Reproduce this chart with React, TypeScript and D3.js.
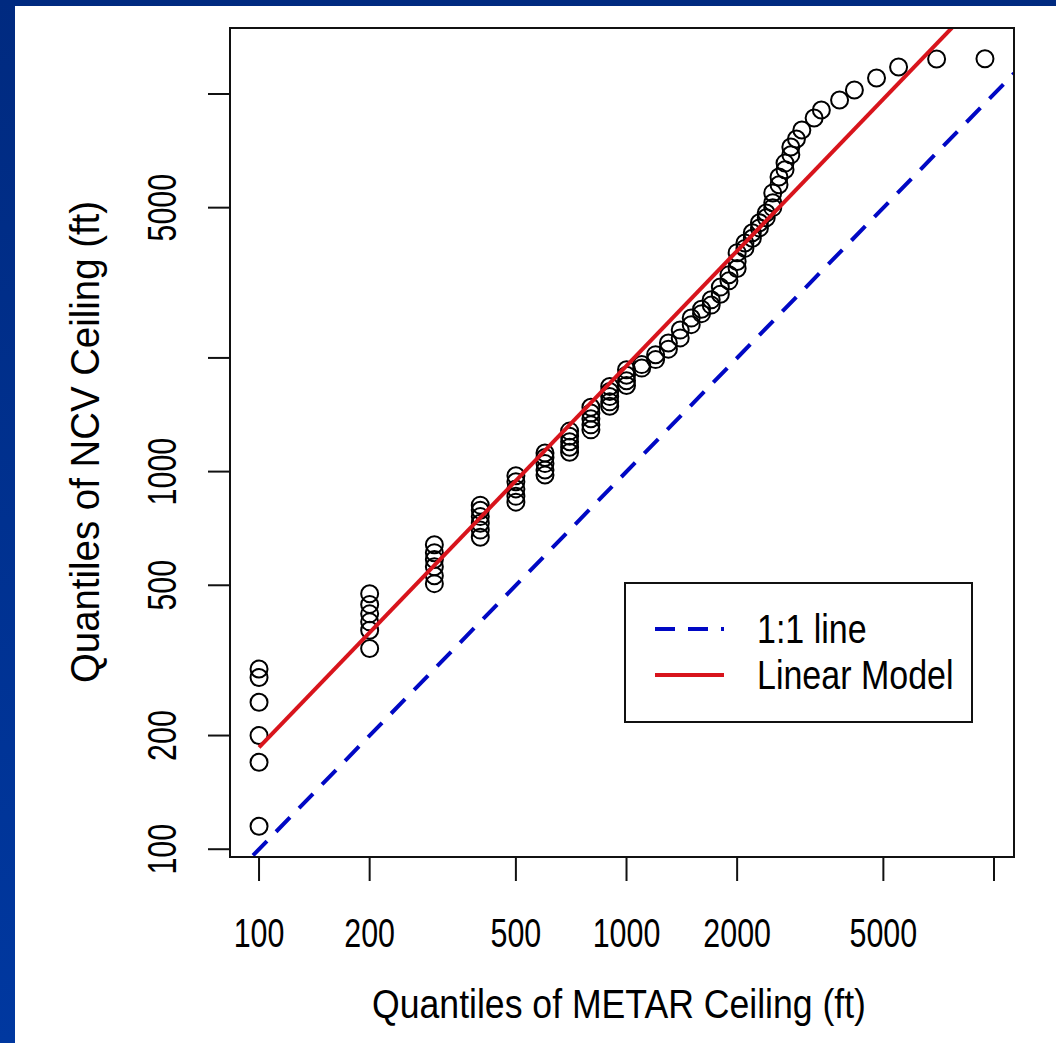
import React from "react";
import * as d3 from "d3";

// ---- data ----
const metarCols: number[] = [100, 200, 300, 400, 500, 600, 700, 800, 900, 1000,
  1100, 1200, 1300, 1400, 1500, 1600, 1700, 1800, 1900, 2000,
  2100, 2200, 2300, 2400, 2500, 2600, 2700, 2800, 2900, 3000];
const ncvCols: number[][] = [
  [115, 170, 200, 245, 285, 300],
  [340, 380, 400, 420, 445, 475],
  [505, 530, 560, 585, 610, 640],
  [670, 700, 730, 760, 790, 815],
  [830, 860, 900, 940, 975],
  [980, 1010, 1050, 1090, 1120],
  [1125, 1160, 1200, 1240, 1280],
  [1290, 1330, 1380, 1430, 1480],
  [1490, 1530, 1580, 1630, 1680],
  [1690, 1740, 1800, 1860],
  [1880, 1920],
  [1980, 2040],
  [2110, 2190],
  [2260, 2370],
  [2450, 2550],
  [2620, 2690],
  [2760, 2850],
  [2950, 3080],
  [3200, 3320],
  [3450, 3600, 3800],
  [3900, 4030],
  [4150, 4290],
  [4420, 4560],
  [4700, 4840],
  [5000, 5150, 5470],
  [5750, 6030],
  [6300, 6560],
  [6900, 7240],
  [7600],
  [8030],
];
const tailMetar: number[] = [3240, 3390, 3800, 4170, 4790, 5500, 6980, 9450];
const tailNcv: number[] = [8640, 9070, 9640, 10250, 11020, 11790, 12380, 12400];

const lmIntercept = 0.2481; // log10 space
const lmSlope = 1.0107;

const xTicks: number[] = [100, 200, 500, 1000, 2000, 5000, 10000];
const xTickLabels: string[] = ["100", "200", "500", "1000", "2000", "5000", ""];
const yTicks: number[] = [100, 200, 500, 1000, 2000, 5000, 10000];
const yTickLabels: string[] = ["100", "200", "500", "1000", "", "5000", ""];

const xTitle = "Quantiles of METAR Ceiling (ft)";
const yTitle = "Quantiles of NCV Ceiling (ft)";
const legendLabels: string[] = ["1:1 line", "Linear Model"];

// ---- layout ----
const W = 1056, H = 1043;
const box = { left: 230, right: 1014, top: 28, bottom: 857 };
const FS = 40;
const FONT = "Liberation Sans, Arial, Helvetica, sans-serif";

export default function App() {
  const pts: { x: number; y: number }[] = [];
  metarCols.forEach((m, i) => ncvCols[i].forEach((v) => pts.push({ x: m, y: v })));
  tailMetar.forEach((m, i) => pts.push({ x: m, y: tailNcv[i] }));

  const xExt = d3.extent(pts, (d) => Math.log10(d.x)) as [number, number];
  const yExt = d3.extent(pts, (d) => Math.log10(d.y)) as [number, number];
  const xPad = (xExt[1] - xExt[0]) * 0.04;
  const yPad = (yExt[1] - yExt[0]) * 0.04;
  const x = d3.scaleLog()
    .domain([Math.pow(10, xExt[0] - xPad), Math.pow(10, xExt[1] + xPad)])
    .range([box.left, box.right]);
  const y = d3.scaleLog()
    .domain([Math.pow(10, yExt[0] - yPad), Math.pow(10, yExt[1] + yPad)])
    .range([box.bottom, box.top]);

  const [dx0, dx1] = x.domain();
  const oneToOne = d3.line()([[x(dx0), y(dx0)], [x(dx1), y(dx1)]]);
  const lmX0 = 100, lmX1 = tailMetar[tailMetar.length - 1];
  const lmY = (v: number) => Math.pow(10, lmIntercept + lmSlope * Math.log10(v));
  const lmPath = d3.line()([[x(lmX0), y(lmY(lmX0))], [x(lmX1), y(lmY(lmX1))]]);

  const txt = (tx: number, ty: number, s: string, sx: number, rot = 0, anchor = "middle") => (
    <g transform={`translate(${tx},${ty}) rotate(${rot}) scale(${sx},1)`}>
      <text x={0} y={0} textAnchor={anchor} dominantBaseline="central"
        fontFamily={FONT} fontSize={FS} fill="#000">{s}</text>
    </g>
  );

  return (
    <svg width={W} height={H} style={{ position: "absolute", left: 0, top: 0 }}>
      <defs>
        <linearGradient id="bg" x1="0" y1="0" x2="0" y2="1">
          <stop offset="0" stopColor="#002a80" />
          <stop offset="1" stopColor="#0038a0" />
        </linearGradient>
        <clipPath id="plotclip">
          <rect x={box.left} y={box.top} width={box.right - box.left} height={box.bottom - box.top} />
        </clipPath>
      </defs>
      <rect x={0} y={0} width={W} height={H} fill="url(#bg)" />
      <rect x={15} y={6} width={W - 15} height={H - 6} fill="#fff" />

      {/* points */}
      <g clipPath="url(#plotclip)">
        {pts.map((d, i) => (
          <circle key={i} cx={x(d.x)} cy={y(d.y)} r={8.5} fill="none" stroke="#000" strokeWidth={2} />
        ))}
        <path d={oneToOne || ""} stroke="#0008c4" strokeWidth={4} strokeDasharray="20 13" fill="none" />
        <path d={lmPath || ""} stroke="#d8141c" strokeWidth={4} fill="none" />
      </g>

      {/* box */}
      <rect x={box.left} y={box.top} width={box.right - box.left} height={box.bottom - box.top}
        fill="none" stroke="#111" strokeWidth={2} />

      {/* x axis */}
      {xTicks.map((t, i) => (
        <g key={"xt" + i}>
          <line x1={x(t)} x2={x(t)} y1={box.bottom} y2={box.bottom + 24} stroke="#111" strokeWidth={2} />
          {xTickLabels[i] ? txt(x(t), 933, xTickLabels[i], 0.76) : null}
        </g>
      ))}
      {/* y axis */}
      {yTicks.map((t, i) => (
        <g key={"yt" + i}>
          <line x1={box.left - 22} x2={box.left} y1={y(t)} y2={y(t)} stroke="#111" strokeWidth={2} />
          {yTickLabels[i] ? txt(162, y(t), yTickLabels[i], 0.76, -90) : null}
        </g>
      ))}

      {txt(619, 1004, xTitle, 0.89)}
      {txt(85, 442, yTitle, 0.96, -90)}

      {/* legend */}
      <rect x={625} y={583} width={347} height={139} fill="#fff" stroke="#111" strokeWidth={2} />
      <line x1={655} x2={724} y1={629} y2={629} stroke="#0008c4" strokeWidth={4} strokeDasharray="20 13" />
      <line x1={655} x2={724} y1={675} y2={675} stroke="#d8141c" strokeWidth={4} />
      {txt(757, 629, legendLabels[0], 0.85, 0, "start")}
      {txt(757, 675, legendLabels[1], 0.85, 0, "start")}
    </svg>
  );
}
